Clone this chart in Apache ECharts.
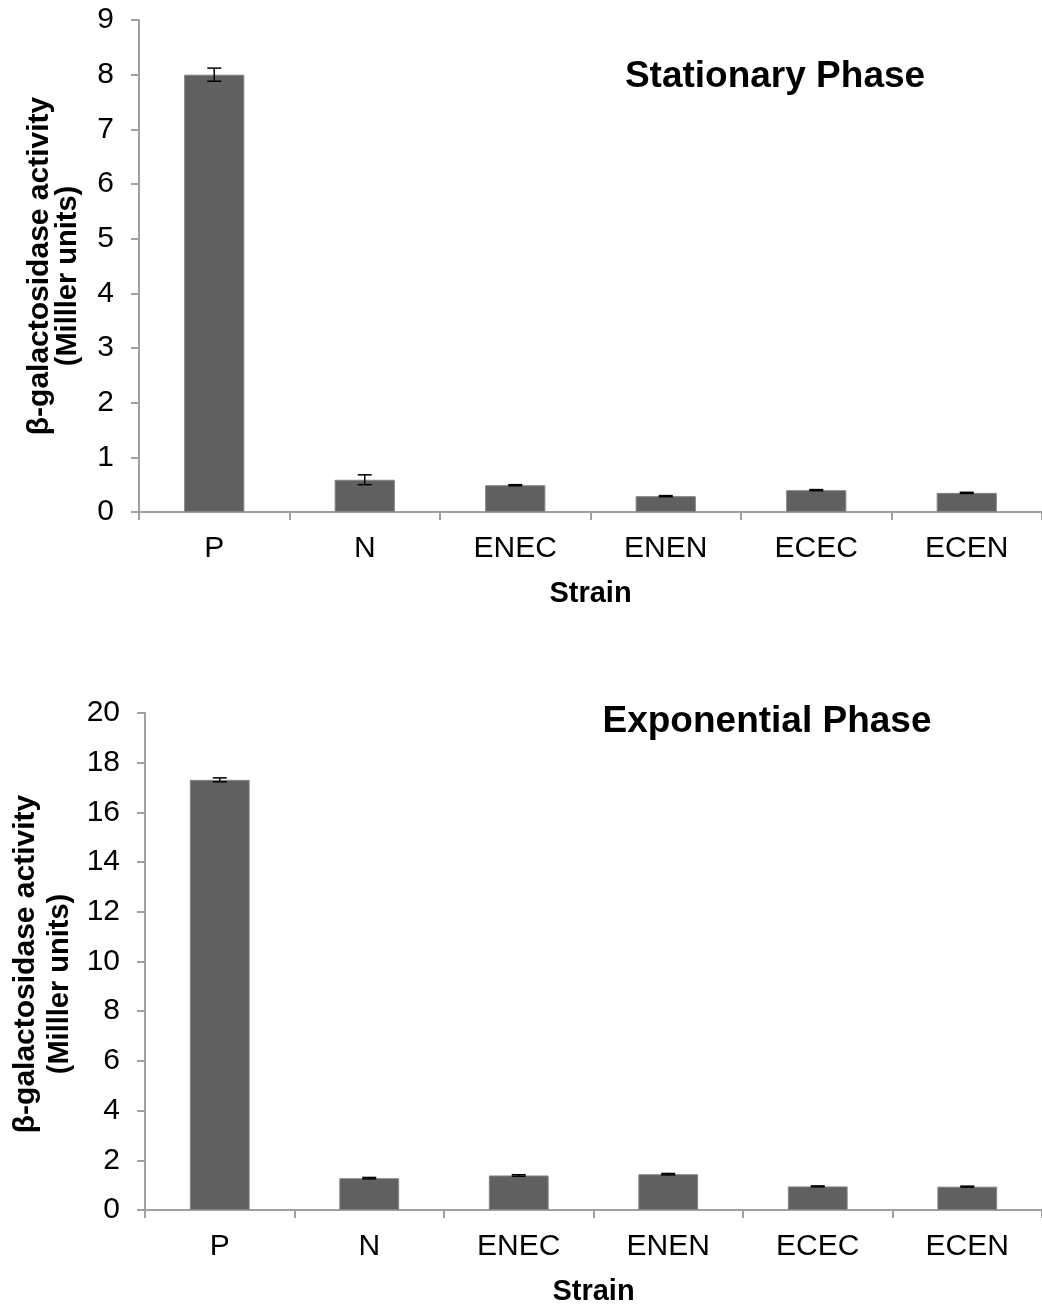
<!DOCTYPE html>
<html>
<head>
<meta charset="utf-8">
<script src="https://cdn.jsdelivr.net/npm/echarts@6/dist/echarts.min.js"></script>
<style>
html,body{margin:0;padding:0;background:#fff;}
#chart{width:1042px;height:1308px;}
</style>
</head>
<body>
<div id="chart"></div>
<script>
const categories = ['P', 'N', 'ENEC', 'ENEN', 'ECEC', 'ECEN'];
const stationaryValues = [8.0, 0.59, 0.49, 0.29, 0.40, 0.35];
const stationaryErrors = [0.12, 0.09, 0.01, 0.01, 0.01, 0.01];
const exponentialValues = [17.31, 1.28, 1.39, 1.44, 0.95, 0.94];
const exponentialErrors = [0.08, 0.03, 0.03, 0.03, 0.02, 0.02];
const stationaryAxis = { min: 0, max: 9, interval: 1 };
const exponentialAxis = { min: 0, max: 20, interval: 2 };
const titles = ['Stationary Phase', 'Exponential Phase'];
const yLabelLines = ['β-galactosidase activity', '(Milller units)'];
const xName = 'Strain';

const FONT = '"Liberation Sans", Arial, sans-serif';
const axisGray = '#a0a0a0';

function errorRender(params, api) {
  const x = api.value(0), v = api.value(1), e = api.value(2);
  const top = api.coord([x, v + e]);
  const bot = api.coord([x, v - e]);
  const hw = 7;
  const st = { stroke: '#000', lineWidth: 1.5 };
  return {
    type: 'group',
    children: [
      { type: 'line', shape: { x1: top[0], y1: top[1], x2: bot[0], y2: bot[1] }, style: st },
      { type: 'line', shape: { x1: top[0] - hw, y1: top[1], x2: top[0] + hw, y2: top[1] }, style: st },
      { type: 'line', shape: { x1: bot[0] - hw, y1: bot[1], x2: bot[0] + hw, y2: bot[1] }, style: st }
    ]
  };
}

function xAxisCfg(gi) {
  return {
    type: 'category', gridIndex: gi, data: categories,
    name: xName, nameLocation: 'middle', nameGap: 67,
    nameTextStyle: { fontFamily: FONT, fontSize: 29, fontWeight: 'bold', color: '#000' },
    axisLine: { show: true, lineStyle: { color: axisGray, width: 2 } },
    axisTick: { show: true, length: 8, lineStyle: { color: axisGray, width: 2 } },
    axisLabel: { fontFamily: FONT, fontSize: 30, color: '#000', margin: 22 },
    splitLine: { show: false }
  };
}
function yAxisCfg(gi, ax) {
  return {
    type: 'value', gridIndex: gi, min: ax.min, max: ax.max, interval: ax.interval,
    axisLine: { show: true, lineStyle: { color: axisGray, width: 2 } },
    axisTick: { show: true, length: 8, lineStyle: { color: axisGray, width: 2 } },
    axisLabel: { fontFamily: FONT, fontSize: 30, color: '#000', margin: 25 },
    splitLine: { show: false }
  };
}
function barSeries(gi, vals) {
  return {
    type: 'bar', xAxisIndex: gi, yAxisIndex: gi, data: vals, barWidth: '40%',
    itemStyle: { color: '#606060', borderColor: '#858585', borderWidth: 1 },
    silent: true, animation: false
  };
}
function errSeries(gi, vals, errs) {
  return {
    type: 'custom', xAxisIndex: gi, yAxisIndex: gi, z: 5,
    data: vals.map((v, i) => [i, v, errs[i]]),
    encode: { x: 0, y: 1 },
    renderItem: errorRender, silent: true, animation: false
  };
}
function txt(x, y, text, size, rot) {
  return {
    type: 'text', x: x, y: y, rotation: rot || 0, silent: true,
    style: { text: text, font: 'bold ' + size + 'px ' + FONT, fill: '#000', align: 'center', verticalAlign: 'middle' }
  };
}

const chart = echarts.init(document.getElementById('chart'), null, { renderer: 'canvas' });
chart.setOption({
  backgroundColor: '#fff',
  animation: false,
  grid: [
    { left: 139, top: 20, width: 906, height: 492 },
    { left: 145, top: 713, width: 899, height: 497 }
  ],
  xAxis: [xAxisCfg(0), xAxisCfg(1)],
  yAxis: [yAxisCfg(0, stationaryAxis), yAxisCfg(1, exponentialAxis)],
  series: [
    barSeries(0, stationaryValues),
    errSeries(0, stationaryValues, stationaryErrors),
    barSeries(1, exponentialValues),
    errSeries(1, exponentialValues, exponentialErrors)
  ],
  graphic: [
    txt(775, 77, titles[0], 37),
    txt(767, 722, titles[1], 37),
    txt(40, 266, yLabelLines[0], 30, Math.PI / 2),
    txt(68, 276, yLabelLines[1], 29, Math.PI / 2),
    txt(26, 964, yLabelLines[0], 30, Math.PI / 2),
    txt(60, 984, yLabelLines[1], 29, Math.PI / 2)
  ]
});
</script>
</body>
</html>
